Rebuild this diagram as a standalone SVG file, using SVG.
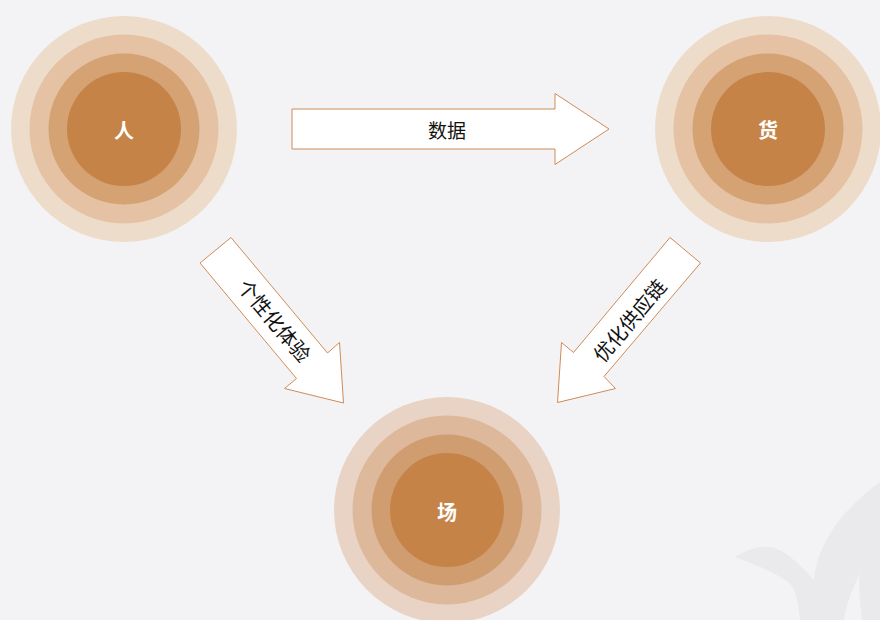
<svg xmlns="http://www.w3.org/2000/svg" width="880" height="620" viewBox="0 0 880 620">
<style>
.r1{fill:#EEDCCB}.r2{fill:#E4C2A3}.r3{fill:#D5A273}.r4{fill:#C58347}
.s1{fill:#E8D3C5}.s2{fill:#DDB89B}.s3{fill:#D09D70}
.lab{font-family:"Noto Sans CJK SC","Noto Sans",sans-serif;font-size:20px;font-weight:bold;fill:#FFFFFF;text-anchor:middle;dominant-baseline:central}
.arr{fill:#FFFFFF;stroke:#D08B55;stroke-width:1}
.at{font-family:"Noto Sans CJK SC","Noto Sans",sans-serif;font-size:19px;fill:#111111;text-anchor:middle;dominant-baseline:central}
.dt{font-size:20px}
</style>
<rect width="880" height="620" fill="#F3F3F5"/>
<g id="watermark" fill="#EAEAEC">
<path d="M735,557 C748,549 760,546 770,547 C785,549 800,565 814,580 L812,620 L800,620 C798,600 795,585 785,580 C770,570 755,565 735,557 Z"/>
<path d="M814,580 C818,540 845,508 880,482 L880,620 L862,620 C860,600 858,585 860,573 C852,590 846,605 844,620 L808,620 C810,605 812,592 814,580 Z"/>
</g>
<g id="connectors">
<g id="arrow-data">
<polygon class="arr" points="292,109 555,109 555,93.5 609,129 555,164.5 555,149 292,149"/>
<text class="at" x="447" y="129">数据</text>
</g>
<g id="arrow-experience">
<polygon class="arr" points="200,263 231,237.5 327.5,353 339.5,342.5 343.5,403 284.5,388.5 296.5,378.5"/>
<text class="at dt" transform="translate(275,320) rotate(50)">个性化体验</text>
</g>
<g id="arrow-supply">
<polygon class="arr" points="670,237.5 700.5,263 604,376.5 615.5,388.5 557.5,402.5 561.5,342.5 573.5,352.5"/>
<text class="at dt" transform="translate(629,320) rotate(-50)">优化供应链</text>
</g>
</g>
<g id="node-ren">
<circle class="r1" cx="124" cy="129" r="113"/>
<circle class="r2" cx="124" cy="129" r="94.5"/>
<circle class="r3" cx="124" cy="129" r="75.5"/>
<circle class="r4" cx="124" cy="129" r="57"/>
<text class="lab" x="124" y="129">人</text>
</g>
<g id="node-huo">
<circle class="r1" cx="768" cy="129" r="113"/>
<circle class="r2" cx="768" cy="129" r="94.5"/>
<circle class="r3" cx="768" cy="129" r="75.5"/>
<circle class="r4" cx="768" cy="129" r="57"/>
<text class="lab" x="768" y="129">货</text>
</g>
<g id="node-chang">
<circle class="s1" cx="447" cy="510" r="113"/>
<circle class="s2" cx="447" cy="510" r="94.5"/>
<circle class="s3" cx="447" cy="510" r="75.5"/>
<circle class="r4" cx="447" cy="510" r="57"/>
<text class="lab" x="447" y="511">场</text>
</g>
</svg>
